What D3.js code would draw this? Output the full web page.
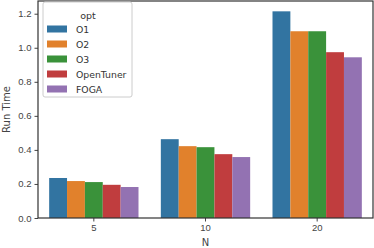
<!DOCTYPE html>
<html>
<head>
<meta charset="utf-8">
<script src="https://cdn.jsdelivr.net/npm/d3@7"></script>
<style>
  body { margin: 0; background: #fff; }
  svg { display: block; font-family: "DejaVu Sans", sans-serif; }
  .axis text { fill: #444; font-size: 9.5px; }
  .axis line { stroke: #444; }
</style>
</head>
<body>
<svg id="chart" width="374" height="248"></svg>
<script>
var groups = ['5', '10', '20'];
var opts = ['O1', 'O2', 'O3', 'OpenTuner', 'FOGA'];
var colors = ['#3274a1', '#e1812c', '#3a923a', '#c03d3e', '#9372b2'];

// run time per opt, in order of groups
var o1 = [0.235, 0.463, 1.214];
var o2 = [0.217, 0.422, 1.097];
var o3 = [0.211, 0.416, 1.097];
var openTuner = [0.195, 0.375, 0.974];
var foga = [0.182, 0.358, 0.944];
var yTicks = [0.0, 0.2, 0.4, 0.6, 0.8, 1.0, 1.2];

var series = [o1, o2, o3, openTuner, foga];

var margin = {top: 1, right: 1, bottom: 30, left: 38};
var width = 374 - margin.left - margin.right;
var height = 248 - margin.top - margin.bottom;

var svg = d3.select('#chart');
var chart = svg.append('g')
  .attr('transform', 'translate(' + margin.left + ',' + margin.top + ')');

var x = d3.scaleBand().domain(groups).range([0, width]).padding(0);
var xInner = d3.scaleBand().domain(opts).range([0, x.bandwidth() * 0.8]);
var y = d3.scaleLinear().domain([0, 1.214 * 1.05]).range([height, 0]);

var rows = [];
series.forEach((vals, i) => {
  vals.forEach((v, j) => rows.push({opt: opts[i], group: groups[j], value: v, color: colors[i]}));
});

chart.selectAll('.bar')
  .data(rows)
  .enter().append('rect')
  .attr('class', 'bar')
  .attr('x', d => x(d.group) + x.bandwidth() * 0.1 + xInner(d.opt))
  .attr('width', xInner.bandwidth())
  .attr('y', d => y(d.value))
  .attr('height', d => height - y(d.value))
  .attr('fill', d => d.color);

var xAxis = d3.axisBottom(x).tickSize(3.5).tickPadding(3);
chart.append('g')
  .attr('class', 'axis')
  .attr('transform', 'translate(0,' + height + ')')
  .call(xAxis)
  .call(g => g.select('.domain').remove());

var yAxis = d3.axisLeft(y).tickValues(yTicks).tickFormat(d3.format('.1f')).tickSize(3.5).tickPadding(3);
chart.append('g')
  .attr('class', 'axis')
  .call(yAxis)
  .call(g => g.select('.domain').remove());

// frame
chart.append('rect')
  .attr('x', 0).attr('y', 0)
  .attr('width', width).attr('height', height)
  .attr('fill', 'none')
  .attr('stroke', '#333')
  .attr('stroke-width', 1.2);

svg.append('text')
  .attr('x', margin.left + width / 2)
  .attr('y', 246)
  .attr('text-anchor', 'middle')
  .attr('font-size', '10px')
  .attr('fill', '#444')
  .text('N');

svg.append('text')
  .attr('transform', 'translate(10,' + (margin.top + height / 2) + ') rotate(-90)')
  .attr('text-anchor', 'middle')
  .attr('font-size', '10px')
  .attr('fill', '#444')
  .text('Run Time');

// legend
var legend = svg.append('g').attr('transform', 'translate(43,2)');
legend.append('rect')
  .attr('width', 89).attr('height', 95)
  .attr('rx', 2)
  .attr('fill', '#fff')
  .attr('fill-opacity', 0.8)
  .attr('stroke', '#ccc');
legend.append('text')
  .attr('x', 45).attr('y', 16.5)
  .attr('text-anchor', 'middle')
  .attr('font-size', '9.5px')
  .attr('fill', '#333')
  .text('opt');
var item = legend.selectAll('.item')
  .data(opts)
  .enter().append('g')
  .attr('class', 'item')
  .attr('transform', (d, i) => 'translate(4,' + (27 + i * 15) + ')');
item.append('rect')
  .attr('width', 20).attr('height', 7)
  .attr('y', -3.5)
  .attr('fill', (d, i) => colors[i]);
item.append('text')
  .attr('x', 29).attr('y', 3.5)
  .attr('font-size', '9.3px')
  .attr('fill', '#333')
  .text(d => d);
</script>
</body>
</html>
